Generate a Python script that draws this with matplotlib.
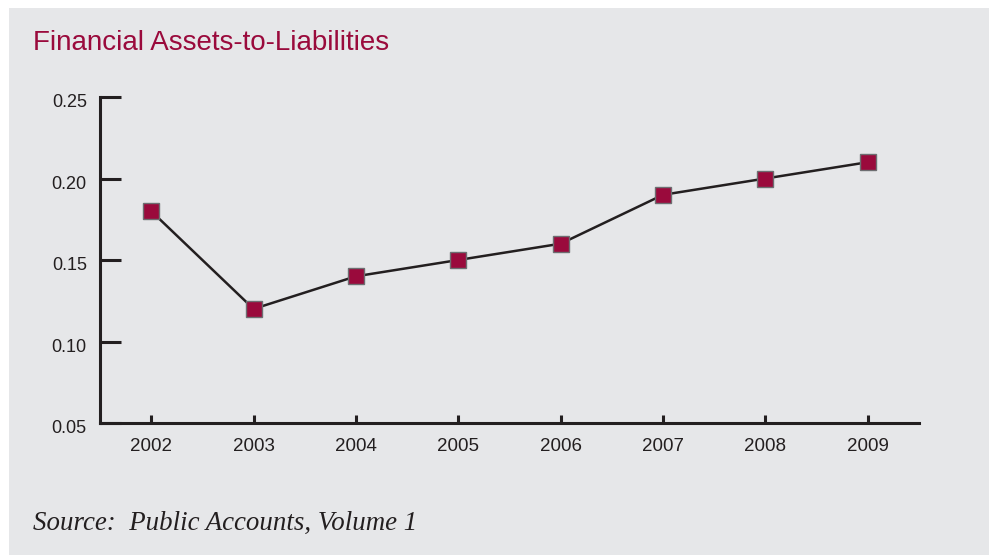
"""
Financial assets-to-liabilities ratio, 2002-2009, drawn as a line chart
with square markers on a light grey panel.
"""

import matplotlib
import matplotlib.pyplot as plt
from matplotlib.patches import Rectangle
from matplotlib.transforms import ScaledTranslation

matplotlib.use('Agg')

years = [2002, 2003, 2004, 2005, 2006, 2007, 2008, 2009]
ratios = [0.18, 0.12, 0.14, 0.15, 0.16, 0.19, 0.20, 0.21]
y_ticks = [0.05, 0.10, 0.15, 0.20, 0.25]
y_labels = ["0.05", "0.10", "0.15", "0.20", "0.25"]

PANEL = "#e6e7e9"
CRIMSON = "#9a0a3c"
INK = "#231f20"


def plot_ratio():
    fig = plt.figure(figsize=(9.89, 5.55), dpi=100)
    fig.patch.set_facecolor("white")

    # grey panel behind everything, with a thin white margin top-left
    fig.patches.append(Rectangle((9 / 989, 0), 1, 1 - 8 / 555,
                                 transform=fig.transFigure,
                                 facecolor=PANEL, edgecolor="none", zorder=-5))

    ax = fig.add_axes([100 / 989, 1 - 423 / 555, 819 / 989, 326 / 555])
    ax.set_facecolor("none")
    ax.set_zorder(2)

    ax.plot(years, ratios, color=INK, linewidth=1.8, marker="s",
            markersize=11, markerfacecolor=CRIMSON,
            markeredgecolor="#6d6e71", markeredgewidth=1.0, zorder=3)

    ax.set_xlim(2001.5, 2009.5)
    ax.set_ylim(0.05, 0.25)
    ax.set_xticks(years)
    ax.set_xticklabels([str(y) for y in years], fontsize=13.5,
                       family="Liberation Sans", color=INK)
    ax.set_yticks(y_ticks)

    # y labels drawn by hand so they can sit a little below their ticks
    label_trans = ax.get_yaxis_transform() + ScaledTranslation(
        -9.5 / 72, -4 / 72, fig.dpi_scale_trans)
    for val, txt in zip(y_ticks, y_labels):
        ax.text(0, val, txt, transform=label_trans, fontsize=13,
                family="Liberation Sans", color=INK,
                ha="right", va="center", clip_on=False)

    for side in ("top", "right"):
        ax.spines[side].set_visible(False)
    for side in ("left", "bottom"):
        ax.spines[side].set_color(INK)
        ax.spines[side].set_linewidth(2.2)

    ax.tick_params(axis="y", direction="in", length=15, width=2.2,
                   color=INK, labelleft=False)
    ax.tick_params(axis="x", direction="in", length=6, width=2.2,
                   color=INK, pad=11)

    fig.text(33 / 989, 1 - 43 / 555, "Financial Assets-to-Liabilities",
             fontsize=20, color=CRIMSON, family="Liberation Sans",
             va="center", ha="left")
    fig.text(33 / 989, 1 - 523 / 555, "Source:  Public Accounts, Volume 1",
             fontsize=19.4, color=INK, family="Liberation Serif",
             style="italic", va="center", ha="left")

    fig.savefig("out.png", dpi=100, facecolor=fig.get_facecolor())


if __name__ == "__main__":
    plot_ratio()
